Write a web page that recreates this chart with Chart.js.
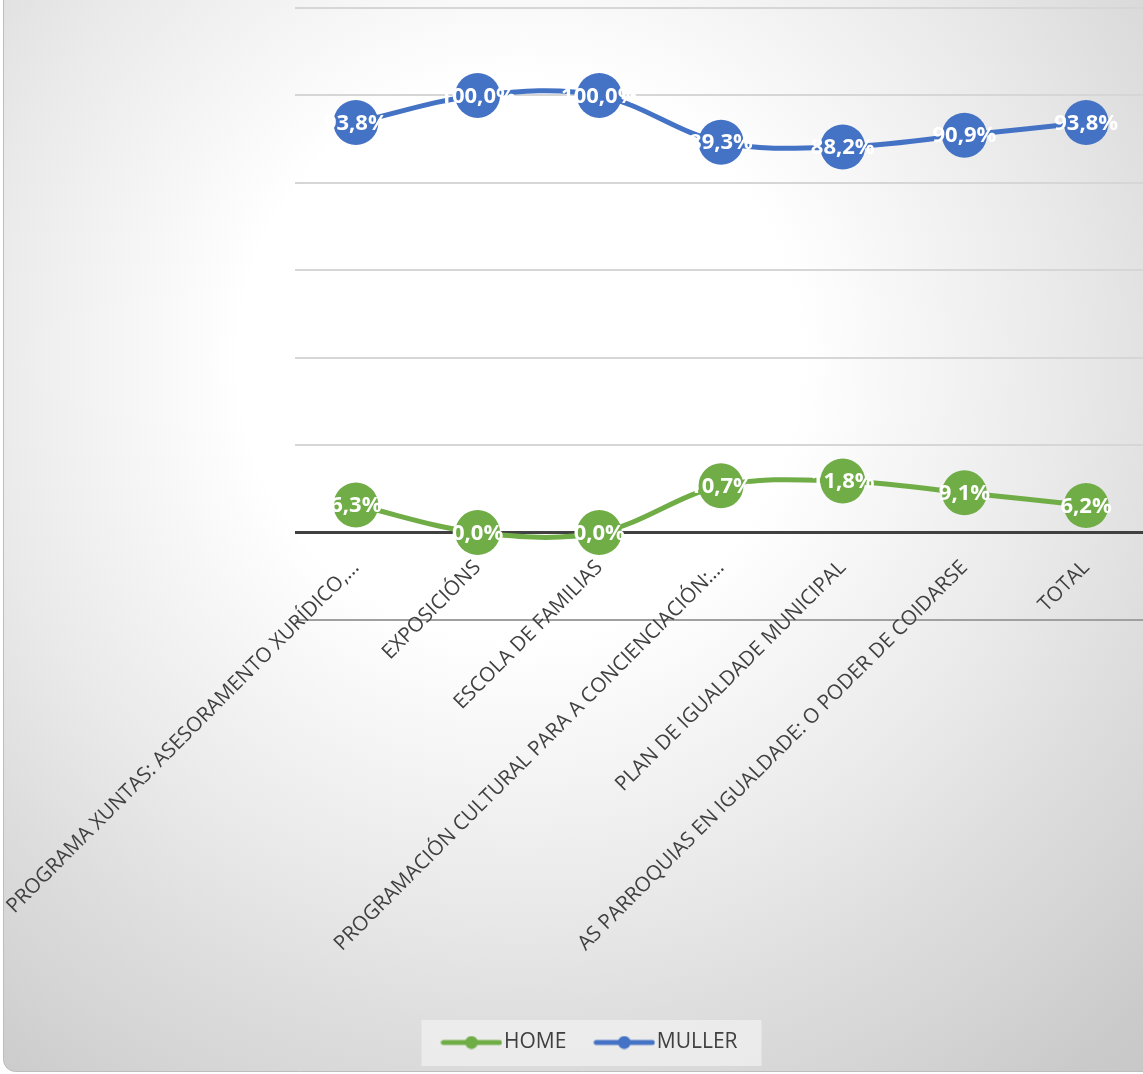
<!DOCTYPE html>
<html>
<head>
<meta charset="utf-8">
<script src="https://cdn.jsdelivr.net/npm/chart.js@4.4.0/dist/chart.umd.min.js"></script>
<style>
  html, body { margin: 0; padding: 0; background: #fff; overflow: hidden; }
  #wrap { width: 1150px; height: 1074px; }
</style>
</head>
<body>
<div id="wrap"><canvas id="chart" width="1150" height="1074"></canvas></div>
<script>
// categories on the x axis
const categories = [
  "PROGRAMA XUNTAS: ASESORAMENTO XURÍDICO,…",
  "EXPOSICIÓNS",
  "ESCOLA DE FAMILIAS",
  "PROGRAMACIÓN CULTURAL PARA A CONCIENCIACIÓN:…",
  "PLAN DE IGUALDADE MUNICIPAL",
  "AS PARROQUIAS EN IGUALDADE: O PODER DE COIDARSE",
  "TOTAL"
];
// percentages per series
const homeValues = [6.3, 0.0, 0.0, 10.7, 11.8, 9.1, 6.2];
const mullerValues = [93.8, 100.0, 100.0, 89.3, 88.2, 90.9, 93.8];
const seriesNames = ["HOME", "MULLER"];
const seriesColors = ["#70AD47", "#4472C4"];

const FONT = '"Open Sans", "Noto Sans", sans-serif';

// legend icon: short line with a dot in the middle
function legendIcon(color) {
  const c = document.createElement('canvas');
  c.width = 62; c.height = 14;
  const g = c.getContext('2d');
  g.strokeStyle = color; g.lineWidth = 5; g.lineCap = 'round';
  g.beginPath(); g.moveTo(3, 7); g.lineTo(59, 7); g.stroke();
  g.fillStyle = color;
  g.beginPath(); g.arc(31, 7, 6.5, 0, Math.PI * 2); g.fill();
  return c;
}
const legendIcons = seriesColors.map(legendIcon);

// chart background + legend box
const backdrop = {
  id: 'backdrop',
  afterLayout(chart) {
    // category labels hang from the zero line, not from the bottom of the plot
    chart.scales.x.top = chart.scales.y.getPixelForValue(0);
  },
  beforeDraw(chart) {
    const ctx = chart.ctx;
    ctx.save();
    ctx.fillStyle = '#fff';
    ctx.fillRect(0, 0, chart.width, chart.height);
    const grad = ctx.createRadialGradient(520, 360, 0, 520, 360, 1000);
    grad.addColorStop(0, '#ffffff');
    grad.addColorStop(0.28, '#ffffff');
    grad.addColorStop(0.55, '#e9e9e9');
    grad.addColorStop(0.68, '#dddddd');
    grad.addColorStop(0.78, '#d5d5d5');
    grad.addColorStop(0.9, '#cacaca');
    grad.addColorStop(1, '#c6c6c6');
    ctx.beginPath();
    ctx.roundRect(3.5, -30, 1200, 1101.5, 12);
    ctx.fillStyle = grad;
    ctx.fill();
    ctx.strokeStyle = '#bdbdbd';
    ctx.lineWidth = 1;
    ctx.stroke();

    const lg = chart.legend;
    if (lg && lg.legendHitBoxes && lg.legendHitBoxes.length) {
      const hb = lg.legendHitBoxes;
      const l = Math.min(...hb.map(h => h.left)) - 28;
      const r = Math.max(...hb.map(h => h.left + h.width)) + 24;
      ctx.fillStyle = 'rgba(240,240,240,0.75)';
      ctx.fillRect(l, 1020, r - l, 46);
    }
    ctx.restore();
  }
};

// white value labels centred in the markers
const valueLabels = {
  id: 'valueLabels',
  afterDatasetsDraw(chart) {
    const ctx = chart.ctx;
    ctx.save();
    ctx.font = 'bold 22px ' + FONT;
    ctx.fillStyle = '#ffffff';
    ctx.textAlign = 'center';
    ctx.textBaseline = 'middle';
    chart.data.datasets.forEach((ds, i) => {
      chart.getDatasetMeta(i).data.forEach((pt, j) => {
        const txt = ds.data[j].toFixed(1).replace('.', ',') + '%';
        ctx.fillText(txt, pt.x, pt.y + 1);
      });
    });
    ctx.restore();
  }
};

const datasets = [homeValues, mullerValues].map((vals, i) => ({
  label: seriesNames[i],
  data: vals,
  borderColor: seriesColors[i],
  backgroundColor: seriesColors[i],
  borderWidth: 5,
  tension: 0.35,
  pointRadius: 22.5,
  pointHoverRadius: 22.5,
  pointBorderWidth: 0,
  fill: false
}));

const ctx = document.getElementById('chart').getContext('2d');
const chart = new Chart(ctx, {
  type: 'line',
  data: { labels: categories, datasets: datasets },
  options: {
    responsive: false,
    animation: false,
    layout: { autoPadding: false, padding: { top: 8, left: 40, right: 3, bottom: 11 } },
    scales: {
      x: {
        offset: true,
        grid: { display: false },
        border: { display: false },
        ticks: {
          autoSkip: false,
          minRotation: 45,
          maxRotation: 45,
          padding: 15,
          color: '#404040',
          font: { family: FONT, size: 20.5 }
        },
        afterFit(scale) {
          scale.height = 376;
          scale.paddingLeft = 0;
          scale.paddingRight = 0;
        }
      },
      y: {
        min: -20,
        max: 120,
        ticks: { display: false, stepSize: 20 },
        border: { display: false },
        grid: {
          drawTicks: false,
          color: c => c.tick.value === 0 ? '#404040' : (c.tick.value === -20 ? '#a0a0a0' : '#d6d6d6'),
          lineWidth: c => c.tick.value === 0 ? 3 : 2
        },
        afterFit(scale) { scale.width = 255; }
      }
    },
    plugins: {
      tooltip: { enabled: false },
      legend: {
        position: 'bottom',
        labels: {
          usePointStyle: true,
          pointStyleWidth: 44,
          padding: 36,
          color: '#404040',
          font: { family: FONT, size: 21 },
          generateLabels(chart) {
            const items = Chart.defaults.plugins.legend.labels.generateLabels(chart);
            items.forEach((it, i) => { it.pointStyle = legendIcons[i]; });
            return items;
          }
        }
      }
    }
  },
  plugins: [backdrop, valueLabels]
});
</script>
</body>
</html>
